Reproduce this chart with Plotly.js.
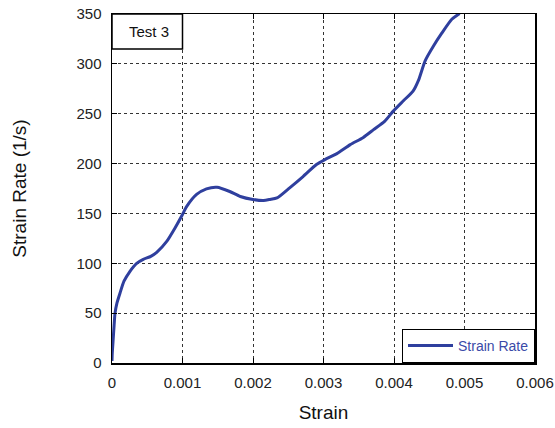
<!DOCTYPE html>
<html>
<head>
<meta charset="utf-8">
<script src="https://cdn.plot.ly/plotly-3.0.1.min.js"></script>
<style>html,body{margin:0;padding:0;background:#fff;}#chart{width:555px;height:428px;}</style>
</head>
<body>
<div id="chart"></div>
<script>
const strain = [0, 0.000004, 0.000015, 0.00003, 0.000043, 0.00007, 0.000113, 0.00017, 0.000255, 0.00035, 0.000444, 0.00055, 0.000634, 0.000776, 0.000894, 0.001, 0.00106, 0.0012, 0.00134, 0.00149, 0.00167, 0.00182, 0.002, 0.00215, 0.00224, 0.00234, 0.00252, 0.00271, 0.0029, 0.00302, 0.00319, 0.00338, 0.00356, 0.00371, 0.00387, 0.00399, 0.00413, 0.00427, 0.00435, 0.00444, 0.00456, 0.00468, 0.00482, 0.00493];
const strainRate = [2, 10, 22, 38, 50, 60, 70, 82, 92, 100, 104, 107, 111, 122, 135.5, 149, 157, 169, 174.7, 176.3, 172, 167, 164, 163, 164, 165.5, 175.7, 187, 199, 204, 210, 219, 226, 234, 242.6, 252.6, 262.7, 272.7, 284, 302.8, 317.9, 331, 344.7, 350.5];
const xTicks = [0, 0.001, 0.002, 0.003, 0.004, 0.005, 0.006];
const xTickLabels = ['0', '0.001', '0.002', '0.003', '0.004', '0.005', '0.006'];
const yTicks = [0, 50, 100, 150, 200, 250, 300, 350];
const seriesName = 'Strain Rate';
const panelLabel = 'Test 3';

const FONT = 'Liberation Sans, Arial, sans-serif';
const trace = {
  x: strain, y: strainRate, type: 'scatter', mode: 'lines', name: seriesName,
  line: {color: '#2f3f9e', width: 3, shape: 'spline', smoothing: 0.6}
};
const axisCommon = {
  showline: true, linecolor: '#000', linewidth: 1.5, mirror: 'ticks',
  ticks: 'inside', ticklen: 5, tickcolor: '#000',
  showgrid: true, gridcolor: '#333', griddash: 'dot', gridwidth: 1,
  zeroline: false, tickfont: {family: FONT, size: 15, color: '#222'}
};
const layout = {
  width: 555, height: 428,
  margin: {l: 112, r: 20, t: 14, b: 65},
  paper_bgcolor: '#fff', plot_bgcolor: '#fff',
  showlegend: true,
  legend: {x: 1, xanchor: 'right', y: 0, yanchor: 'bottom', bordercolor: '#000', borderwidth: 1,
    bgcolor: '#fff', itemwidth: 45, font: {family: FONT, size: 14, color: '#3a4aa8'}},
  xaxis: Object.assign({}, axisCommon, {range: [0, 0.006], tickvals: xTicks, ticktext: xTickLabels,
    ticklabelstandoff: 5,
    title: {text: 'Strain', font: {family: FONT, size: 19, color: '#111'}, standoff: 16}}),
  yaxis: Object.assign({}, axisCommon, {range: [0, 350], tickvals: yTicks, ticklabelstandoff: 6,
    title: {text: 'Strain Rate (1/s)', font: {family: FONT, size: 19, color: '#111'}, standoff: 45}}),
  shapes: [{type: 'rect', xref: 'x', yref: 'y', x0: 0, x1: 0.001, y0: 315, y1: 350,
    line: {color: '#000', width: 1.5}, fillcolor: '#fff', layer: 'above'}],
  annotations: [{xref: 'x', yref: 'y', x: 0.00052, y: 332.5, text: panelLabel, showarrow: false,
    font: {family: FONT, size: 15, color: '#111'}}]
};
Plotly.newPlot('chart', [trace], layout, {displayModeBar: false, staticPlot: true});
</script>
</body>
</html>
